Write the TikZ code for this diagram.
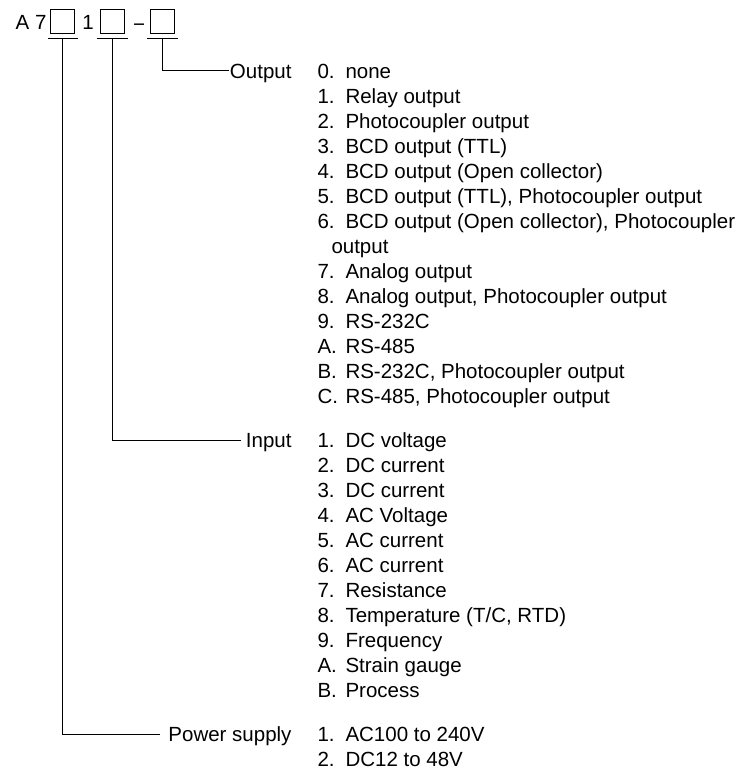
\documentclass[tikz,border=0pt]{standalone}
\usepackage{fontspec}
\setmainfont{Liberation Sans}
\newcommand\lstrow[4]{%
  \node[txt] (#1n) at (317,#2) {#3};
  \node[txt] (#1t) at (345,#2) {#4};}
\begin{document}
\begin{tikzpicture}[x=1pt,y=-1pt,line width=1pt,
  txt/.style={inner sep=0pt,anchor=base west,font=\fontsize{20.5}{25}\selectfont},
  lbl/.style={inner sep=0pt,anchor=base east,font=\fontsize{20.5}{25}\selectfont},
  sq/.style={draw,minimum width=24pt,minimum height=24pt,inner sep=0pt},
  conn/.style={draw,line width=1pt}]
\useasboundingbox (0,0) rectangle (755,771);
% header code
\node[lbl] (a7) at (47,29.5) {A 7};
\node[sq] (b1) at (62,21) {};
\node[txt,anchor=base] (one) at (88,29.5) {1};
\node[sq] (b2) at (112,21) {};
\node[txt,anchor=base] (dash) at (139,31) {−};
\node[sq] (b3) at (162,21) {};
\coordinate (u1) at (62,38);
\coordinate (u2) at (112,38);
\coordinate (u3) at (162,38);
\draw ([xshift=-14pt]u1) -- ([xshift=16pt]u1);
\draw ([xshift=-15pt]u2) -- ([xshift=16pt]u2);
\draw ([xshift=-15pt]u3) -- ([xshift=16pt]u3);
% labels and connectors
\node[lbl] (outl) at (292,78) {Output};
\node[lbl] (inl) at (292,447) {Input};
\node[lbl] (pwl) at (292,741) {Power supply};
\coordinate (oe) at (229,70);
\coordinate (ie) at (241,440);
\coordinate (pe) at (160,734);
\draw[conn] (u3) |- (oe);
\draw[conn] (u2) |- (ie);
\draw[conn] (u1) |- (pe);
% output list
\lstrow{o0}{78}{0.}{none}
\lstrow{o1}{103}{1.}{Relay output}
\lstrow{o2}{128}{2.}{Photocoupler output}
\lstrow{o3}{153}{3.}{BCD output (TTL)}
\lstrow{o4}{178}{4.}{BCD output (Open collector)}
\lstrow{o5}{203}{5.}{BCD output (TTL), Photocoupler output}
\lstrow{o6}{228}{6.}{BCD output (Open collector), Photocoupler}
\node[txt] (o6c) at (331,253) {output};
\lstrow{o7}{278}{7.}{Analog output}
\lstrow{o8}{303}{8.}{Analog output, Photocoupler output}
\lstrow{o9}{328}{9.}{RS-232C}
\lstrow{oA}{353}{A.}{RS-485}
\lstrow{oB}{378}{B.}{RS-232C, Photocoupler output}
\lstrow{oC}{403}{C.}{RS-485, Photocoupler output}
% input list
\lstrow{i1}{447}{1.}{DC voltage}
\lstrow{i2}{472}{2.}{DC current}
\lstrow{i3}{497}{3.}{DC current}
\lstrow{i4}{522}{4.}{AC Voltage}
\lstrow{i5}{547}{5.}{AC current}
\lstrow{i6}{572}{6.}{AC current}
\lstrow{i7}{597}{7.}{Resistance}
\lstrow{i8}{622}{8.}{Temperature (T/C, RTD)}
\lstrow{i9}{647}{9.}{Frequency}
\lstrow{iA}{672}{A.}{Strain gauge}
\lstrow{iB}{697}{B.}{Process}
% power list
\lstrow{p1}{741}{1.}{AC100 to 240V}
\lstrow{p2}{766}{2.}{DC12 to 48V}
\end{tikzpicture}
\end{document}
